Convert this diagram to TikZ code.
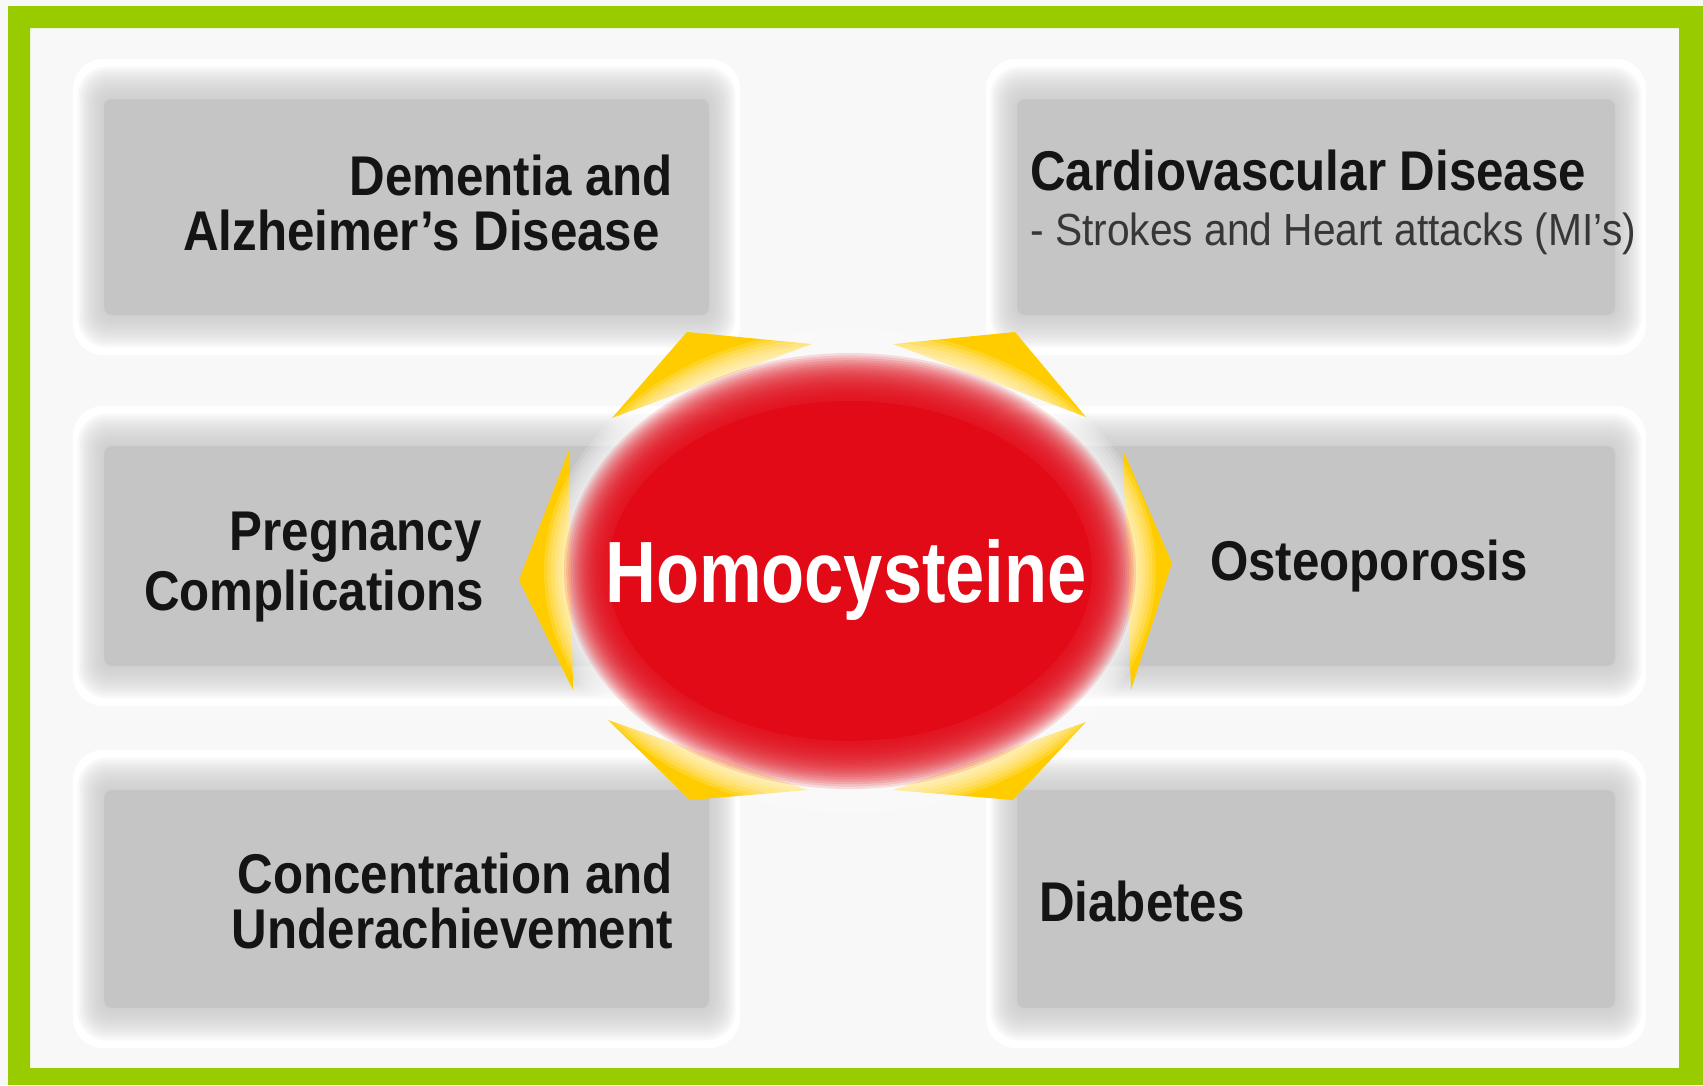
\documentclass[tikz,border=0pt]{standalone}
\usepackage{fontspec}
\setmainfont{Liberation Sans}
\newfontfamily\boxfont{Liberation Sans}[FakeStretch=0.88]
\newfontfamily\subfont{Liberation Sans}[FakeStretch=0.905]
\newfontfamily\homofont{Liberation Sans}[FakeStretch=0.81]
\usetikzlibrary{shapes.geometric}
\definecolor{framegreen}{RGB}{153,204,0}
\definecolor{bgc}{RGB}{248,248,248}
\definecolor{boxgray}{RGB}{197,197,197}
\definecolor{hyellow}{RGB}{255,204,0}
\definecolor{hred}{RGB}{226,10,23}
\definecolor{txt}{RGB}{20,20,20}
\newcommand\softbox[5]{%
  \fill[white, rounded corners=30pt] ({#2-31},{#3-40}) rectangle ({#4+31},{#5+40});
  \foreach \k in {12,11,...,1}{%
    \pgfmathsetmacro\rc{10+1.6*\k}
    \fill[boxgray, fill opacity=0.11, rounded corners=\rc pt]
      ({#2-2.2*\k},{#3-2.7*\k}) rectangle ({#4+2.2*\k},{#5+2.7*\k});
  }
  \node[boxnode, minimum width={(#4-#2)*1pt}, minimum height={(#5-#3)*1pt}]
    (#1) at ({(#2+#4)/2},{(#3+#5)/2}) {};
}
\begin{document}
\begin{tikzpicture}[x=1pt,y=-1pt,
  boxnode/.style={rectangle, fill=boxgray, rounded corners=8pt, inner sep=0pt, draw=none},
  lbl/.style={inner sep=0pt, text=txt, font=\boxfont\bfseries\fontsize{56}{60}\selectfont},
  sublbl/.style={inner sep=0pt, text=txt!85!white, font=\subfont\fontsize{45}{50}\selectfont},
  homolbl/.style={inner sep=0pt, text=white, font=\homofont\bfseries\fontsize{87}{90}\selectfont},
  spike/.style={fill=hyellow, draw=none}
]
\useasboundingbox (0,0) rectangle (1703,1085);
\fill[bgc] (0,0) rectangle (1703,1085);
\fill[framegreen, even odd rule] (8,6) rectangle (1703,1085) (30,28) rectangle (1679,1068);

% boxes
\softbox{tl}{104}{99}{709}{315}
\softbox{tr}{1017}{99}{1615}{315}
\softbox{ml}{104}{446}{709}{666}
\softbox{mr}{1017}{446}{1615}{666}
\softbox{bl}{104}{790}{709}{1008}
\softbox{br}{1017}{790}{1615}{1008}

% yellow spikes
\fill[spike] (687,332) -- (812,344) -- (612,418) -- cycle;
\fill[spike] (893,344) -- (1015,332) -- (1086,417) -- cycle;
\fill[spike] (1123,450) -- (1172,563) -- (1131,690) -- cycle;
\fill[spike] (1086,722) -- (1013,800) -- (893,790) -- cycle;
\fill[spike] (608,720) -- (690,800) -- (808,790) -- cycle;
\fill[spike] (569,450) -- (519,580) -- (573,690) -- cycle;

% glow and red ellipse
\foreach \k in {0,...,9}{%
  \pgfmathsetmacro\rx{306-3.5*\k}
  \pgfmathsetmacro\ry{242-3.5*\k}
  \fill[white, fill opacity=0.16] (850,571) ellipse [x radius=\rx pt, y radius=\ry pt];
}
\foreach \k in {0,...,19}{%
  \pgfmathsetmacro\rx{286-2.2*\k}
  \pgfmathsetmacro\ry{218-2.4*\k}
  \fill[hred, fill opacity=0.13] (850,571) ellipse [x radius=\rx pt, y radius=\ry pt];
}
\node[ellipse, fill=hred, inner sep=0pt, minimum width=484pt, minimum height=340pt] (homo) at (850,571) {};
\node[homolbl, anchor=base] (homotext) at (846,602) {Homocysteine};

% texts
\node[lbl, anchor=base east] (dem1) at (673,195) {Dementia and};
\node[lbl, anchor=base east] (dem2) at (660,250) {Alzheimer’s Disease};
\node[lbl, anchor=base west] (cv1) at (1030,190) {Cardiovascular Disease};
\node[sublbl, anchor=base west] (cv2) at (1030,245) {- Strokes and Heart attacks (MI’s)};
\node[lbl, anchor=base east] (preg1) at (482,550) {Pregnancy};
\node[lbl, anchor=base east] (preg2) at (484,610) {Complications};
\node[lbl, anchor=base west] (osteo) at (1210,580) {Osteoporosis};
\node[lbl, anchor=base east] (con1) at (673,893) {Concentration and};
\node[lbl, anchor=base east] (con2) at (673,948) {Underachievement};
\node[lbl, anchor=base west] (diab) at (1039,921) {Diabetes};
\end{tikzpicture}
\end{document}
